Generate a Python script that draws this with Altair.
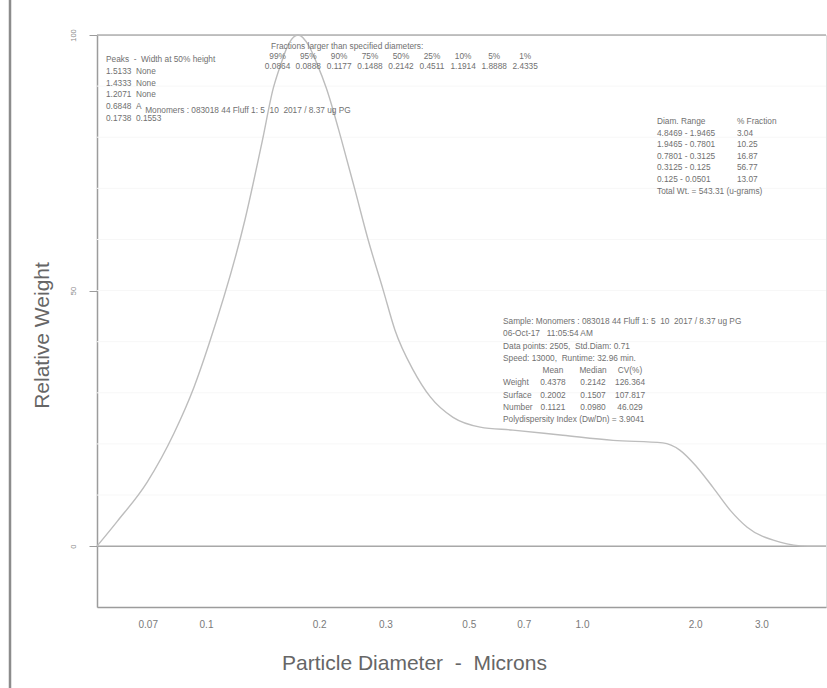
import altair as alt
import pandas as pd

# Weight-based particle size distribution: diameter (microns) vs relative weight
diameter = [0.0513, 0.058, 0.0697, 0.0822, 0.0929, 0.1018, 0.127, 0.141, 0.151,
            0.158, 0.166, 0.176, 0.188, 0.197, 0.209, 0.230, 0.249, 0.270, 0.296,
            0.318, 0.356, 0.395, 0.454, 0.536, 0.655, 0.889, 1.21, 1.64, 1.82,
            2.02, 2.23, 2.48, 2.75, 3.36, 3.97, 4.456]
weight = [0.0, 4.8, 12.5, 22.1, 31.1, 39.5, 63.9, 79.1, 89.6,
          94.2, 98.3, 100.0, 97.8, 94.5, 89.6, 79.1, 69.7, 59.9, 50.1,
          42.3, 34.4, 29.2, 25.2, 23.3, 22.7, 21.7, 20.7, 20.2, 18.8,
          15.5, 11.5, 7.0, 3.7, 0.8, 0.0, 0.0]

x_ticks = [0.07, 0.1, 0.2, 0.3, 0.5, 0.7, 1.0, 2.0, 3.0]
y_ticks = [0, 50, 100]
grid_levels = [10, 20, 30, 40, 50, 60, 70, 80, 90]

NB = "\u00a0"  # keeps wide gaps between words in SVG text

# Annotation text
peak_lines = [f"Peaks {NB}-{NB} Width at 50% height", f"1.5133 {NB}None", f"1.4333 {NB}None",
              f"1.2071 {NB}None", f"0.6848 {NB}A", f"0.1738 {NB}0.1553"]
monomer_line = f"Monomers : 083018 44 Fluff 1: 5 {NB}10 {NB}2017 / 8.37 ug PG"
fraction_title = "Fractions larger than specified diameters:"
fraction_pcts = ["99%", "95%", "90%", "75%", "50%", "25%", "10%", "5%", "1%"]
fraction_vals = ["0.0864", "0.0888", "0.1177", "0.1488", "0.2142", "0.4511",
                 "1.1914", "1.8888", "2.4335"]
fraction_cols = [0.155, 0.187, 0.226, 0.273, 0.330, 0.399, 0.483, 0.584, 0.706]
range_lines = ["Diam. Range", "4.8469 - 1.9465", "1.9465 - 0.7801", "0.7801 - 0.3125",
               "0.3125 - 0.125", "0.125 - 0.0501", "Total Wt. = 543.31 (u-grams)"]
range_pcts = ["% Fraction", "3.04", "10.25", "16.87", "56.77", "13.07"]
sample_lines = [f"Sample: Monomers : 083018 44 Fluff 1: 5 {NB}10 {NB}2017 / 8.37 ug PG",
                f"06-Oct-17 {NB}{NB}11:05:54 AM",
                f"Data points: 2505, {NB}Std.Diam: 0.71",
                f"Speed: 13000, {NB}Runtime: 32.96 min."]
stat_header = ["Mean", "Median", "CV(%)"]
stat_rows = ["Weight", "Surface", "Number"]
stat_mean = ["0.4378", "0.2002", "0.1121"]
stat_median = ["0.2142", "0.1507", "0.0980"]
stat_cv = ["126.364", "107.817", "46.029"]
poly_line = "Polydispersity Index (Dw/Dn) = 3.9041"
stat_cols = [0.837, 1.070, 1.342]

W, H = 729, 572
FONT = "Liberation Sans"
NARROW = "Liberation Sans Narrow, Liberation Sans, Arial, sans-serif"
TXT = "#707070"
LINE = "#9c9c9c"
FS = 8.3

X_ENC = alt.X(
    "d:Q",
    scale=alt.Scale(type="log", domain=[0.0513, 4.456], nice=False),
    axis=alt.Axis(
        values=x_ticks,
        labelExpr="datum.value >= 1 ? format(datum.value, '.1f') : toString(datum.value)",
        ticks=False, grid=False, domainColor=LINE, domainWidth=1.5,
        labelFontSize=10, labelColor="#7a7a7a", labelPadding=12, labelFont=NARROW,
        labelFlush=False, labelOverlap=False,
        title=f"Particle Diameter {NB}-{NB} Microns", titleFont=NARROW, titleFontSize=21,
        titleFontWeight="normal", titleColor="#666666",
        titleX=317, titleY=56, titleAlign="center", titleBaseline="middle",
    ),
)
Y_ENC = alt.Y(
    "w:Q",
    scale=alt.Scale(domain=[-11.9, 100], nice=False, zero=False),
    axis=alt.Axis(
        values=y_ticks, labelAngle=270, labelFontSize=7.5, labelColor="#8a8a8a",
        tickSize=8, tickColor=LINE, domainColor=LINE, domainWidth=1.5,
        labelPadding=12, labelFlush=False, labelOverlap=False, grid=False,
        title="Relative Weight", titleFont=FONT, titleFontSize=21,
        titleFontWeight="normal", titleColor="#666666", titleAngle=270,
        titleX=-55, titleY=300, titleAlign="center", titleBaseline="middle",
    ),
)

curve_df = pd.DataFrame({"d": diameter, "w": weight})

# Text rows placed in data space (microns, relative weight)
left_rows, center_rows = [], []
for i, s in enumerate(peak_lines):
    left_rows.append((s, 0.0542, 95.1 - 2.3 * i))
left_rows.append((monomer_line, 0.0689, 85.1))
left_rows.append((fraction_title, 0.149, 97.7))
for c, p, v in zip(fraction_cols, fraction_pcts, fraction_vals):
    center_rows.append((p, c, 95.7))
    center_rows.append((v, c, 93.7))
for i, s in enumerate(range_lines):
    left_rows.append((s, 1.583, 83.0 - 2.27 * i))
for i, s in enumerate(range_pcts):
    left_rows.append((s, 2.582, 83.0 - 2.27 * i))
for i, s in enumerate(sample_lines):
    left_rows.append((s, 0.6166, 43.8 - 2.39 * i))
for c, s in zip(stat_cols, stat_header):
    center_rows.append((s, c, 43.8 - 2.39 * 4))
for j, (r, m, md, cv) in enumerate(zip(stat_rows, stat_mean, stat_median, stat_cv)):
    yy = 43.8 - 2.39 * (5 + j)
    left_rows.append((r, 0.6166, yy))
    center_rows.append((m, stat_cols[0], yy))
    center_rows.append((md, stat_cols[1], yy))
    center_rows.append((cv, stat_cols[2], yy))
left_rows.append((poly_line, 0.6166, 43.8 - 2.39 * 8))

left_df = pd.DataFrame(left_rows, columns=["t", "d", "w"])
center_df = pd.DataFrame(center_rows, columns=["t", "d", "w"])

grid = alt.Chart(pd.DataFrame({"w": grid_levels})).mark_rule(
    color="#f7f7f7", strokeWidth=1
).encode(y=Y_ENC)

baseline = alt.Chart(pd.DataFrame({"w": [0]})).mark_rule(
    color="#a8a8a8", strokeWidth=1.5
).encode(y=Y_ENC)

top_frame = alt.Chart(pd.DataFrame({"w": [100]})).mark_rule(
    color="#b0b0b0", strokeWidth=1.5
).encode(y=Y_ENC, x=alt.value(0), x2=alt.value(W))

page_edge = alt.Chart(pd.DataFrame({"w": [0]})).mark_rule(
    color="#8c8c8c", strokeWidth=2.5
).encode(x=alt.value(-87), y=alt.value(-35), y2=alt.value(H + 81))

curve = alt.Chart(curve_df).mark_line(
    color="#bdbdbd", strokeWidth=1.4, interpolate="monotone"
).encode(x=X_ENC, y=Y_ENC)

left_text = alt.Chart(left_df).mark_text(
    align="left", baseline="middle", fontSize=FS, font=FONT, color=TXT
).encode(x=X_ENC, y=Y_ENC, text="t:N")

center_text = alt.Chart(center_df).mark_text(
    align="center", baseline="middle", fontSize=FS, font=FONT, color=TXT
).encode(x=X_ENC, y=Y_ENC, text="t:N")

chart = alt.layer(
    grid, baseline, top_frame, page_edge, curve, left_text, center_text
).properties(
    width=W, height=H,
    autosize=alt.AutoSizeParams(type="none"),
    padding={"left": 97, "top": 35, "right": 1, "bottom": 81},
    background="white",
).configure_view(strokeWidth=0).configure(font=FONT)

chart.save("out.html", embed_options={"renderer": "svg", "actions": False})
